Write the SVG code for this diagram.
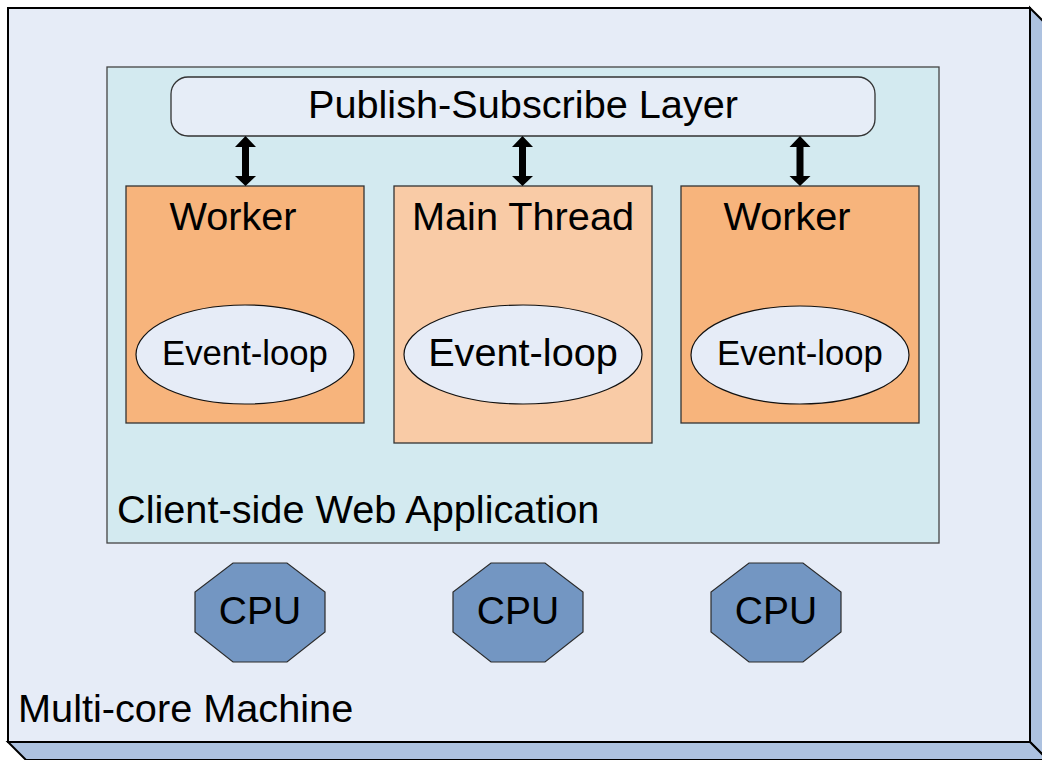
<svg xmlns="http://www.w3.org/2000/svg" width="1042" height="760" viewBox="0 0 1042 760">
<style>
text{font-family:"Liberation Sans",Arial,sans-serif;fill:#000}
.big{font-size:39.7px}
.el{font-size:34.7px}
.cpt{font-size:39px}
.cpu{fill:#7396c2;stroke:#2b2b2b;stroke-width:1.2}
.worker{fill:#f7b47c;stroke:#333;stroke-width:1.3}
.main{fill:#f9cba6;stroke:#333;stroke-width:1.3}
.ell{fill:#e6ecf7;stroke:#111;stroke-width:1.2}
.arr{fill:#000}
</style>
<rect width="1042" height="760" fill="#ffffff"/>
<g id="machine">
<polygon points="1030,8 1048,26 1048,760 1030,742" fill="#adc2e0" stroke="#000" stroke-width="2"/>
<polygon points="8,742 1030,742 1048,760 26,760" fill="#adc2e0" stroke="#000" stroke-width="2"/>
<rect x="8" y="8" width="1022" height="734" fill="#e6ecf7" stroke="#000" stroke-width="2"/>
<text class="big" x="18" y="722">Multi-core Machine</text>
</g>
<g id="app">
<rect x="107" y="67" width="832" height="476" fill="#d3eaf0" stroke="#444" stroke-width="1.3"/>
<text class="big" x="117" y="523">Client-side Web Application</text>
</g>
<g id="pubsub">
<rect x="171" y="77" width="704" height="59" rx="17" ry="17" fill="#e6edf7" stroke="#333" stroke-width="1.3"/>
<text class="big" x="523" y="118" text-anchor="middle">Publish-Subscribe Layer</text>
</g>
<g id="worker1">
<rect class="worker" x="126" y="186" width="238" height="237"/>
<text class="big" x="233" y="230" text-anchor="middle">Worker</text>
<ellipse class="ell" cx="245" cy="354.5" rx="109" ry="49.5"/>
<text class="el" x="245" y="365" text-anchor="middle">Event-loop</text>
</g>
<g id="mainthread">
<rect class="main" x="394" y="186" width="258" height="257"/>
<text class="big" x="523" y="230" text-anchor="middle">Main Thread</text>
<ellipse class="ell" cx="523" cy="354.5" rx="119" ry="49.5"/>
<text class="big" x="523" y="366" text-anchor="middle">Event-loop</text>
</g>
<g id="worker2">
<rect class="worker" x="681" y="186" width="238" height="237"/>
<text class="big" x="787" y="230" text-anchor="middle">Worker</text>
<ellipse class="ell" cx="800" cy="355" rx="109" ry="49"/>
<text class="el" x="800" y="365" text-anchor="middle">Event-loop</text>
</g>
<g id="cpu1">
<polygon class="cpu" points="233,563 287,563 325,592 325,632 287,662 233,662 195,632 195,592"/>
<text class="cpt" x="260" y="624" text-anchor="middle">CPU</text>
</g>
<g id="cpu2">
<polygon class="cpu" points="491,563 545,563 583,592 583,632 545,662 491,662 453,632 453,592"/>
<text class="cpt" x="518" y="624" text-anchor="middle">CPU</text>
</g>
<g id="cpu3">
<polygon class="cpu" points="749,563 803,563 841,592 841,632 803,662 749,662 711,632 711,592"/>
<text class="cpt" x="776" y="624" text-anchor="middle">CPU</text>
</g>
<g id="connectors">
<polygon class="arr" points="245.5,136 256,147 249,147 249,176 256,176 245.5,186 235,176 242,176 242,147 235,147"/>
<polygon class="arr" points="522.5,136 533,147 526,147 526,176 533,176 522.5,186 512,176 519,176 519,147 512,147"/>
<polygon class="arr" points="800,136 810.5,147 803.5,147 803.5,176 810.5,176 800,186 789.5,176 796.5,176 796.5,147 789.5,147"/>
</g>
</svg>
